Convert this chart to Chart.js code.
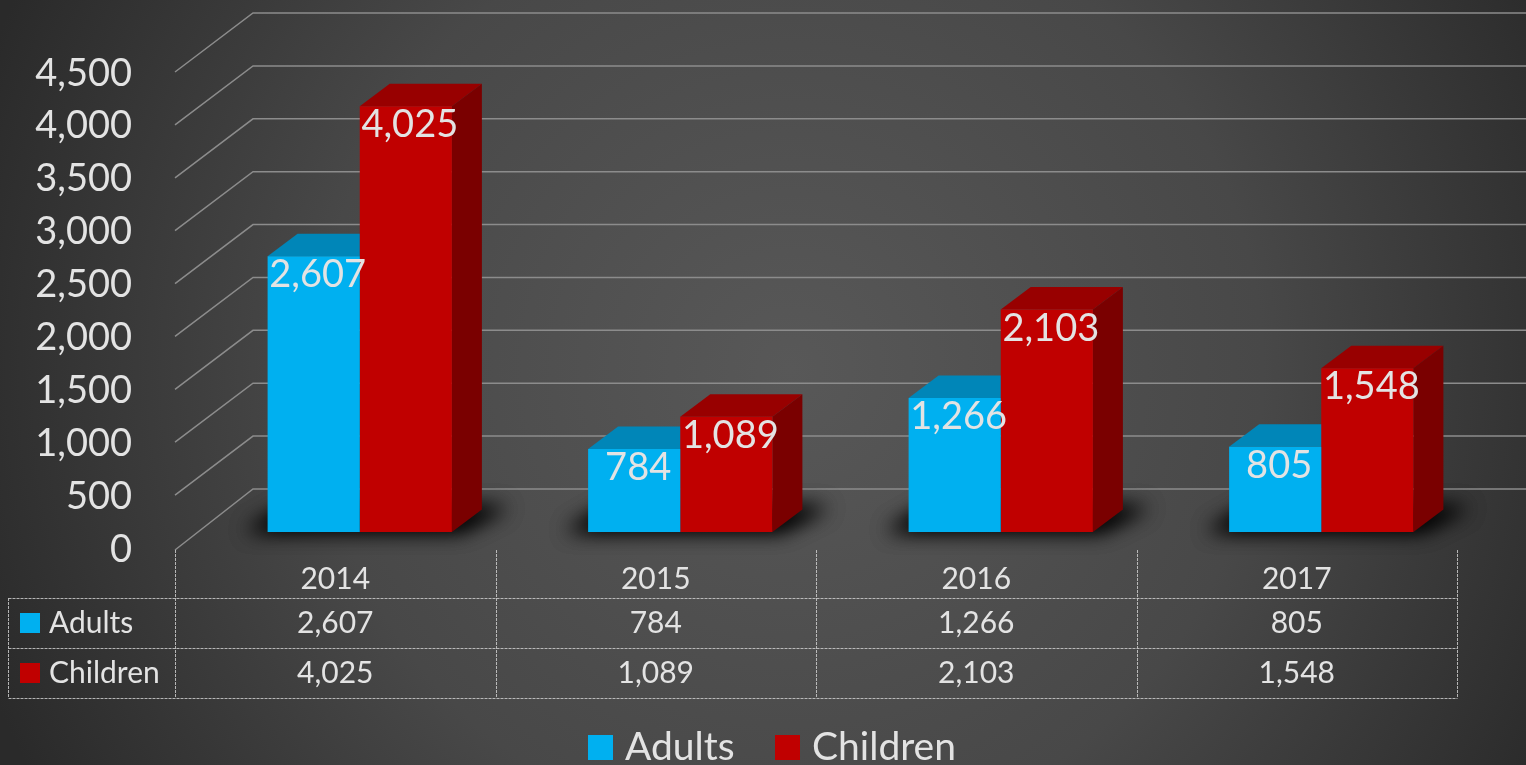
<!DOCTYPE html>
<html><head><meta charset="utf-8">
<script src="https://cdn.jsdelivr.net/npm/chart.js@4.4.1/dist/chart.umd.min.js"></script>
<style>html,body{margin:0;padding:0;background:#333;overflow:hidden}#wrap{width:1526px;height:765px}</style>
</head><body><div id="wrap"><canvas id="c" width="1526" height="765"></canvas></div>
<script>
const categories = ['2014', '2015', '2016', '2017'];
const adults = [2607, 784, 1266, 805];
const children = [4025, 1089, 2103, 1548];
const seriesNames = ['Adults', 'Children'];
const yTicks = [0, 500, 1000, 1500, 2000, 2500, 3000, 3500, 4000, 4500];

const FRONT = ['#00b0f0', '#c00000'];
const TOP = ['#0086b8', '#980000'];
const SIDE = ['#006f98', '#7a0000'];
const TEXT = '#e3e3e3';
const FONT = 'Lato, "Open Sans", sans-serif';
const FLOOR_DX = 78, FLOOR_DY = -59;   // wall depth
const SHIFT_X = 24.5, SHIFT_Y = -16;   // bar plane inside the floor
const BAR_DX = 30, BAR_DY = -22.5;     // bar depth
const fmt = v => v.toLocaleString('en-US');

const scene = {
  id: 'scene',
  beforeDraw(chart) {
    const ctx = chart.ctx, W = chart.width, H = chart.height;
    const y = chart.scales.y, ca = chart.chartArea;
    ctx.save();
    const g = ctx.createRadialGradient(790, 370, 0, 790, 370, 860);
    g.addColorStop(0, '#585858');
    g.addColorStop(0.55, '#484848');
    g.addColorStop(1, '#2a2a2a');
    ctx.fillStyle = g;
    ctx.fillRect(0, 0, W, H);
    ctx.strokeStyle = '#8c8c8c';
    ctx.lineWidth = 1.5;
    yTicks.forEach(v => {
      const py = y.getPixelForValue(v);
      ctx.beginPath();
      ctx.moveTo(ca.left, py + (v === 0 ? 2 : 0));
      ctx.lineTo(ca.left + FLOOR_DX, py + FLOOR_DY);
      ctx.lineTo(W, py + FLOOR_DY);
      ctx.stroke();
    });
    ctx.fillStyle = TEXT;
    ctx.font = '38px ' + FONT;
    ctx.textAlign = 'right';
    ctx.textBaseline = 'alphabetic';
    yTicks.forEach(v => {
      ctx.fillText(fmt(v), 132, y.getPixelForValue(v) + 13.5);
    });
    ctx.restore();
  },
  beforeDatasetsDraw(chart) {
    const ctx = chart.ctx;
    ctx.save();
    ctx.translate(SHIFT_X, SHIFT_Y);
    const m0 = chart.getDatasetMeta(0), m1 = chart.getDatasetMeta(1);
    const OFF = 5000;
    m0.data.forEach((el, i) => {
      const a = el.getProps(['x', 'base', 'width'], true);
      const b = m1.data[i].getProps(['x', 'base', 'width'], true);
      const x1 = a.x - a.width / 2, x2 = b.x + b.width / 2, base = a.base;
      ctx.save();
      ctx.shadowColor = 'rgba(0,0,0,0.85)';
      ctx.shadowBlur = 20;
      ctx.shadowOffsetX = OFF;
      ctx.fillStyle = '#000';
      for (let k = 0; k < 2; k++) {
        ctx.beginPath();
        ctx.moveTo(x1 - 22 - OFF, base - 1);
        ctx.lineTo(x2 + 8 - OFF, base - 1);
        ctx.lineTo(x2 + 56 - OFF, base - 25);
        ctx.lineTo(x1 + 20 - OFF, base - 25);
        ctx.closePath();
        ctx.fill();
      }
      ctx.restore();
    });
    [0, 1].forEach(d => {
      chart.getDatasetMeta(d).data.forEach(el => {
        const p = el.getProps(['x', 'y', 'base', 'width'], true);
        const l = p.x - p.width / 2, r = p.x + p.width / 2;
        ctx.fillStyle = TOP[d];
        ctx.beginPath();
        ctx.moveTo(l, p.y); ctx.lineTo(r, p.y);
        ctx.lineTo(r + BAR_DX, p.y + BAR_DY); ctx.lineTo(l + BAR_DX, p.y + BAR_DY);
        ctx.closePath(); ctx.fill();
        ctx.fillStyle = SIDE[d];
        ctx.beginPath();
        ctx.moveTo(r, p.y); ctx.lineTo(r + BAR_DX, p.y + BAR_DY);
        ctx.lineTo(r + BAR_DX, p.base + BAR_DY); ctx.lineTo(r, p.base);
        ctx.closePath(); ctx.fill();
      });
    });
  },
  afterDatasetsDraw(chart) {
    const ctx = chart.ctx;
    ctx.fillStyle = TEXT;
    ctx.font = '38px ' + FONT;
    ctx.textAlign = 'center';
    ctx.textBaseline = 'alphabetic';
    chart.data.datasets.forEach((ds, d) => {
      chart.getDatasetMeta(d).data.forEach((el, i) => {
        const p = el.getProps(['x', 'y'], true);
        ctx.fillText(fmt(ds.data[i]), p.x + 4, p.y + 31);
      });
    });
    ctx.restore();
  },
  afterDraw(chart) {
    const ctx = chart.ctx, x = chart.scales.x, ca = chart.chartArea;
    const n = categories.length, cw = (ca.right - ca.left) / n;
    const top = 550, r1 = 598, r2 = 648, r3 = 698, tl = 8;
    ctx.save();
    ctx.strokeStyle = 'rgba(205,205,205,0.85)';
    ctx.lineWidth = 1;
    ctx.setLineDash([3, 1]);
    const line = (ax, ay, bx, by) => { ctx.beginPath(); ctx.moveTo(ax, ay); ctx.lineTo(bx, by); ctx.stroke(); };
    for (let i = 0; i <= n; i++) {
      const lx = Math.round(ca.left + i * cw) + 0.5;
      line(lx, top, lx, r3);
    }
    [r1, r2, r3].forEach(ry => line(tl + 0.5, ry + 0.5, ca.right + 0.5, ry + 0.5));
    line(tl + 0.5, r1, tl + 0.5, r3);
    ctx.setLineDash([]);
    ctx.fillStyle = TEXT;
    ctx.font = '30px ' + FONT;
    ctx.textAlign = 'center';
    ctx.textBaseline = 'alphabetic';
    const rowsData = [adults, children];
    categories.forEach((c, i) => {
      const cx = x.getPixelForValue(i);
      ctx.fillText(c, cx, 589);
      ctx.fillText(fmt(rowsData[0][i]), cx, 633);
      ctx.fillText(fmt(rowsData[1][i]), cx, 683);
    });
    ctx.textAlign = 'left';
    seriesNames.forEach((s, d) => {
      const base = d === 0 ? 633 : 683;
      ctx.fillStyle = FRONT[d];
      ctx.fillRect(20, base - 20, 20, 20);
      ctx.fillStyle = TEXT;
      ctx.fillText(s, 49, base);
    });
    ctx.font = '39px ' + FONT;
    const lx = [588, 775];
    seriesNames.forEach((s, d) => {
      ctx.fillStyle = FRONT[d];
      ctx.fillRect(lx[d], 735, 25, 25);
      ctx.fillStyle = TEXT;
      ctx.fillText(s, lx[d] + 37, 760);
    });
    ctx.restore();
  }
};

new Chart(document.getElementById('c'), {
  type: 'bar',
  data: {
    labels: categories,
    datasets: [
      { label: seriesNames[0], data: adults, backgroundColor: FRONT[0], clip: false },
      { label: seriesNames[1], data: children, backgroundColor: FRONT[1], clip: false }
    ]
  },
  options: {
    responsive: false,
    animation: false,
    devicePixelRatio: 1,
    layout: { padding: { left: 175, right: 69, top: 72, bottom: 217 } },
    datasets: { bar: { categoryPercentage: 0.575, barPercentage: 1 } },
    scales: {
      x: { display: false },
      y: { display: false, min: 0, max: 4500 }
    },
    plugins: { legend: { display: false }, tooltip: { enabled: false } }
  },
  plugins: [scene]
});
</script>
</body></html>
